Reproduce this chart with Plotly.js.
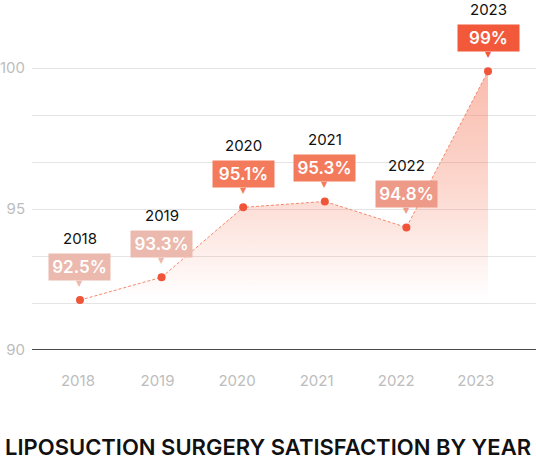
<!DOCTYPE html>
<html>
<head>
<meta charset="utf-8">
<script src="https://cdn.plot.ly/plotly-3.0.1.min.js"></script>
<style>
  html, body { margin: 0; padding: 0; background: #fff; }
  #chart { width: 536px; height: 461px; }
</style>
</head>
<body>
<div id="chart"></div>
<script>
// satisfaction by year (point heights, labels as printed)
const years = ["2018", "2019", "2020", "2021", "2022", "2023"];
const satisfaction = [91.77, 92.58, 95.06, 95.27, 94.35, 99.89];
const labels = ["92.5%", "93.3%", "95.1%", "95.3%", "94.8%", "99%"];
const labelColors = ["#EBB9AE", "#EBB9AE", "#F47A5C", "#F47A5C", "#EE9A88", "#F2593A"];

const xs = years.map((y, i) => i);
const font = "Inter, 'Noto Sans', sans-serif";

const area = {
  x: xs,
  y: satisfaction,
  type: "scatter",
  mode: "lines+markers",
  fill: "tozeroy",
  fillgradient: {
    type: "vertical",
    start: 91.8,
    stop: 100,
    colorscale: [
      [0, "rgba(245,120,90,0)"],
      [0.5, "rgba(245,120,90,0.3)"],
      [1, "rgba(245,120,90,0.5)"]
    ]
  },
  line: { color: "#F7876B", width: 1, dash: "3px,2px" },
  marker: { color: "#F0553A", size: 8 },
  cliponaxis: false,
  hoverinfo: "skip"
};

const annotations = [];
xs.forEach((x, i) => {
  // year above the bubble
  annotations.push({
    x: x, y: satisfaction[i], xref: "x", yref: "y",
    text: years[i], showarrow: false,
    yshift: 62, yanchor: "middle",
    font: { family: font, size: 15, color: "#111" }
  });
  // value bubble
  annotations.push({
    x: x, y: satisfaction[i], xref: "x", yref: "y",
    text: labels[i], showarrow: false,
    yshift: 33, yanchor: "middle",
    width: 55, height: 20, borderpad: 3,
    bgcolor: labelColors[i],
    font: { family: font, size: 17, color: "#fff", weight: 600 }
  });
  // bubble pointer
  annotations.push({
    x: x, y: satisfaction[i], xref: "x", yref: "y",
    text: "▼", showarrow: false,
    yshift: 17, yanchor: "middle",
    font: { family: "DejaVu Sans", size: 8, color: labelColors[i] }
  });
});

const layout = {
  width: 536,
  height: 461,
  margin: { l: 32, r: 0, t: 23, b: 111 },
  paper_bgcolor: "#fff",
  plot_bgcolor: "#fff",
  showlegend: false,
  font: { family: font },
  title: {
    text: "LIPOSUCTION SURGERY SATISFACTION BY YEAR",
    font: { family: font, size: 22, color: "#111", weight: 600 },
    x: 0.5, xanchor: "center",
    y: 1 - 447 / 461, yanchor: "middle"
  },
  xaxis: {
    range: [-0.588, 5.588],
    tickmode: "array",
    tickvals: xs.map(i => i * 0.975 - 0.025),
    ticktext: years,
    showgrid: false,
    zeroline: false,
    showline: false,
    ticks: "",
    ticklabelstandoff: 20,
    tickfont: { family: font, size: 15, color: "#BDBDBD" }
  },
  yaxis: {
    range: [90, 101.6],
    tick0: 90,
    dtick: 5,
    showgrid: true,
    gridcolor: "#E4E4E4",
    gridwidth: 1,
    minor: { tick0: 90, dtick: 5 / 3, showgrid: true, gridcolor: "#E4E4E4", gridwidth: 1 },
    zeroline: false,
    showline: false,
    ticks: "",
    ticklabelstandoff: 6,
    tickfont: { family: font, size: 15, color: "#BDBDBD" }
  },
  shapes: [{
    type: "line", xref: "paper", yref: "y",
    x0: 0, x1: 1, y0: 90, y1: 90,
    line: { color: "#111", width: 1.5 }
  }],
  annotations: annotations
};

Plotly.newPlot("chart", [area], layout, { displayModeBar: false, staticPlot: true });
</script>
</body>
</html>
